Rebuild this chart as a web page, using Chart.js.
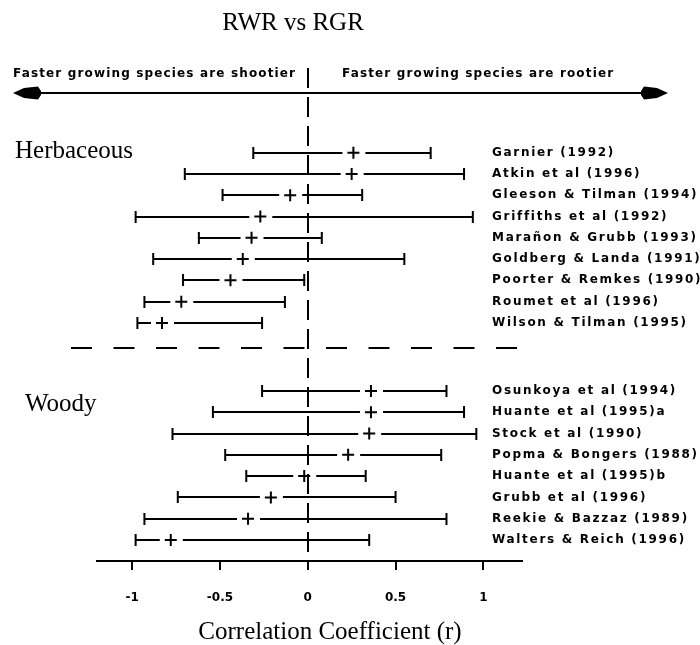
<!DOCTYPE html>
<html><head><meta charset="utf-8">
<script src="https://cdn.jsdelivr.net/npm/chart.js@4"></script>
<style>html,body{margin:0;padding:0;background:#fff;}canvas{display:block;}</style>
</head><body>
<canvas id="c" width="700" height="645"></canvas>
<script>
// ---- data ----
const chartTitle = 'RWR vs RGR';
const axisTitle = 'Correlation Coefficient (r)';
const leftNote = 'Faster growing species are shootier';
const rightNote = 'Faster growing species are rootier';
const groupNames = ['Herbaceous', 'Woody'];

const herbLabels = ['Garnier (1992)', 'Atkin et al (1996)', 'Gleeson & Tilman (1994)', 'Griffiths et al (1992)',
  'Marañon & Grubb (1993)', 'Goldberg & Landa (1991)', 'Poorter & Remkes (1990)', 'Roumet et al (1996)', 'Wilson & Tilman (1995)'];
const herbLow  = [-0.31, -0.70, -0.485, -0.98, -0.62, -0.88, -0.71, -0.93, -0.97];
const herbMean = [ 0.26,  0.25, -0.10, -0.27, -0.32, -0.37, -0.44, -0.72, -0.83];
const herbHigh = [ 0.70,  0.89,  0.31,  0.94,  0.08,  0.55, -0.02, -0.13, -0.26];

const woodyLabels = ['Osunkoya et al (1994)', 'Huante et al (1995)a', 'Stock et al (1990)', 'Popma & Bongers (1988)',
  'Huante et al (1995)b', 'Grubb et al (1996)', 'Reekie & Bazzaz (1989)', 'Walters & Reich (1996)'];
const woodyLow  = [-0.26, -0.54, -0.77, -0.47, -0.35, -0.74, -0.93, -0.98];
const woodyMean = [ 0.36,  0.36,  0.35,  0.23, -0.02, -0.21, -0.34, -0.78];
const woodyHigh = [ 0.79,  0.89,  0.96,  0.76,  0.33,  0.50,  0.79,  0.35];

const xTickValues = [-1, -0.5, 0, 0.5, 1];
const xTickLabels = ['-1', '-0.5', '0', '0.5', '1'];

// ---- layout (row units on the vertical scale) ----
const WOODY_START = 11.2, SEPARATOR_ROW = 9.19, ARROW_ROW = -2.82, NOTE_ROW = -3.70;
const rows = [];
herbLabels.forEach((l, i) => rows.push({label: l, lo: herbLow[i], mean: herbMean[i], hi: herbHigh[i], row: i}));
woodyLabels.forEach((l, i) => rows.push({label: l, lo: woodyLow[i], mean: woodyMean[i], hi: woodyHigh[i], row: WOODY_START + i}));

const GAP_L = 11, GAP_R = 12, CAP = 6;

const forestPlugin = {
  id: 'forest',
  beforeDatasetsDraw(chart) {
    const {ctx, scales: {x, y}} = chart;
    ctx.save();
    ctx.strokeStyle = '#000';
    ctx.lineWidth = 2;
    rows.forEach(r => {
      const py = Math.round(y.getPixelForValue(r.row));
      const xl = x.getPixelForValue(r.lo), xm = x.getPixelForValue(r.mean), xh = x.getPixelForValue(r.hi);
      ctx.beginPath();
      if (xm - GAP_L > xl) { ctx.moveTo(xl, py); ctx.lineTo(xm - GAP_L, py); }
      if (xm + GAP_R < xh) { ctx.moveTo(xm + GAP_R, py); ctx.lineTo(xh, py); }
      ctx.moveTo(xl, py - CAP); ctx.lineTo(xl, py + CAP);
      ctx.moveTo(xh, py - CAP); ctx.lineTo(xh, py + CAP);
      ctx.stroke();
    });
    // group separator
    const sy = Math.round(y.getPixelForValue(SEPARATOR_ROW));
    ctx.setLineDash([21, 21.5]);
    ctx.beginPath(); ctx.moveTo(71, sy); ctx.lineTo(519, sy); ctx.stroke();
    ctx.setLineDash([]);
    ctx.restore();
  },
  afterDraw(chart) {
    const {ctx, scales: {x, y}} = chart;
    ctx.save();
    ctx.fillStyle = '#000'; ctx.strokeStyle = '#000';
    // title
    ctx.font = '25px "Liberation Serif", serif';
    ctx.textAlign = 'center'; ctx.textBaseline = 'middle';
    ctx.fillText(chartTitle, 293, 23);
    // axis title
    ctx.fillText(axisTitle, 330, 632);
    // group labels
    ctx.textAlign = 'left';
    ctx.fillText(groupNames[0], 15, y.getPixelForValue(0) - 1);
    ctx.fillText(groupNames[1], 25, y.getPixelForValue(WOODY_START + 0.63));
    // arrow
    const ay = Math.round(y.getPixelForValue(ARROW_ROW));
    ctx.lineWidth = 2;
    ctx.beginPath(); ctx.moveTo(30, ay); ctx.lineTo(650, ay); ctx.stroke();
    ctx.beginPath();
    ctx.moveTo(13, ay); ctx.lineTo(24, ay - 5); ctx.lineTo(38, ay - 6.5); ctx.lineTo(41, ay - 2); ctx.lineTo(41, ay + 2); ctx.lineTo(38, ay + 6.5); ctx.lineTo(24, ay + 5); ctx.closePath(); ctx.fill();
    ctx.beginPath();
    ctx.moveTo(668, ay); ctx.lineTo(657, ay - 5); ctx.lineTo(644, ay - 6.5); ctx.lineTo(641, ay - 2); ctx.lineTo(641, ay + 2); ctx.lineTo(644, ay + 6.5); ctx.lineTo(657, ay + 5); ctx.closePath(); ctx.fill();
    // notes
    ctx.font = 'bold 12px "DejaVu Sans", sans-serif';
    ctx.letterSpacing = '1.15px';
    const ny = y.getPixelForValue(NOTE_ROW);
    ctx.fillText(leftNote, 13, ny);
    ctx.fillText(rightNote, 342, ny);
    // study labels
    ctx.letterSpacing = '1.7px';
    rows.forEach(r => ctx.fillText(r.label, 492, y.getPixelForValue(r.row)));
    ctx.letterSpacing = '0px';
    ctx.restore();
  }
};

new Chart(document.getElementById('c'), {
  type: 'scatter',
  data: {
    datasets: [{
      data: rows.map(r => ({x: r.mean, y: r.row})),
      pointStyle: 'cross', pointRadius: 6, pointBorderWidth: 2,
      borderColor: '#000', backgroundColor: '#000', showLine: false
    }]
  },
  options: {
    responsive: false, animation: false, events: [],
    layout: {padding: {top: 68, left: 97, right: 178, bottom: 0}},
    plugins: {legend: {display: false}, title: {display: false}, tooltip: {enabled: false}},
    scales: {
      x: {
        type: 'linear', position: 'bottom', min: -1.2, max: 1.22,
        afterBuildTicks: s => { s.ticks = xTickValues.map(v => ({value: v})); },
        afterFit: s => { s.height = 84; },
        ticks: {
          callback: (v, i) => xTickLabels[i],
          color: '#000', font: {family: '"DejaVu Sans", sans-serif', size: 12, weight: 'bold'},
          padding: 21, maxRotation: 0, autoSkip: false
        },
        grid: {
          display: true, drawOnChartArea: true, drawTicks: true,
          tickLength: 9, tickWidth: 2, tickColor: '#000', lineWidth: 2,
          color: c => (c.tick && c.tick.value === 0) ? '#000' : 'rgba(0,0,0,0)'
        },
        border: {display: true, color: '#000', width: 2, dash: [20, 9]}
      },
      y: {type: 'linear', display: false, reverse: true, min: -3.98, max: 19.19}
    }
  },
  plugins: [forestPlugin]
});
</script>
</body></html>
